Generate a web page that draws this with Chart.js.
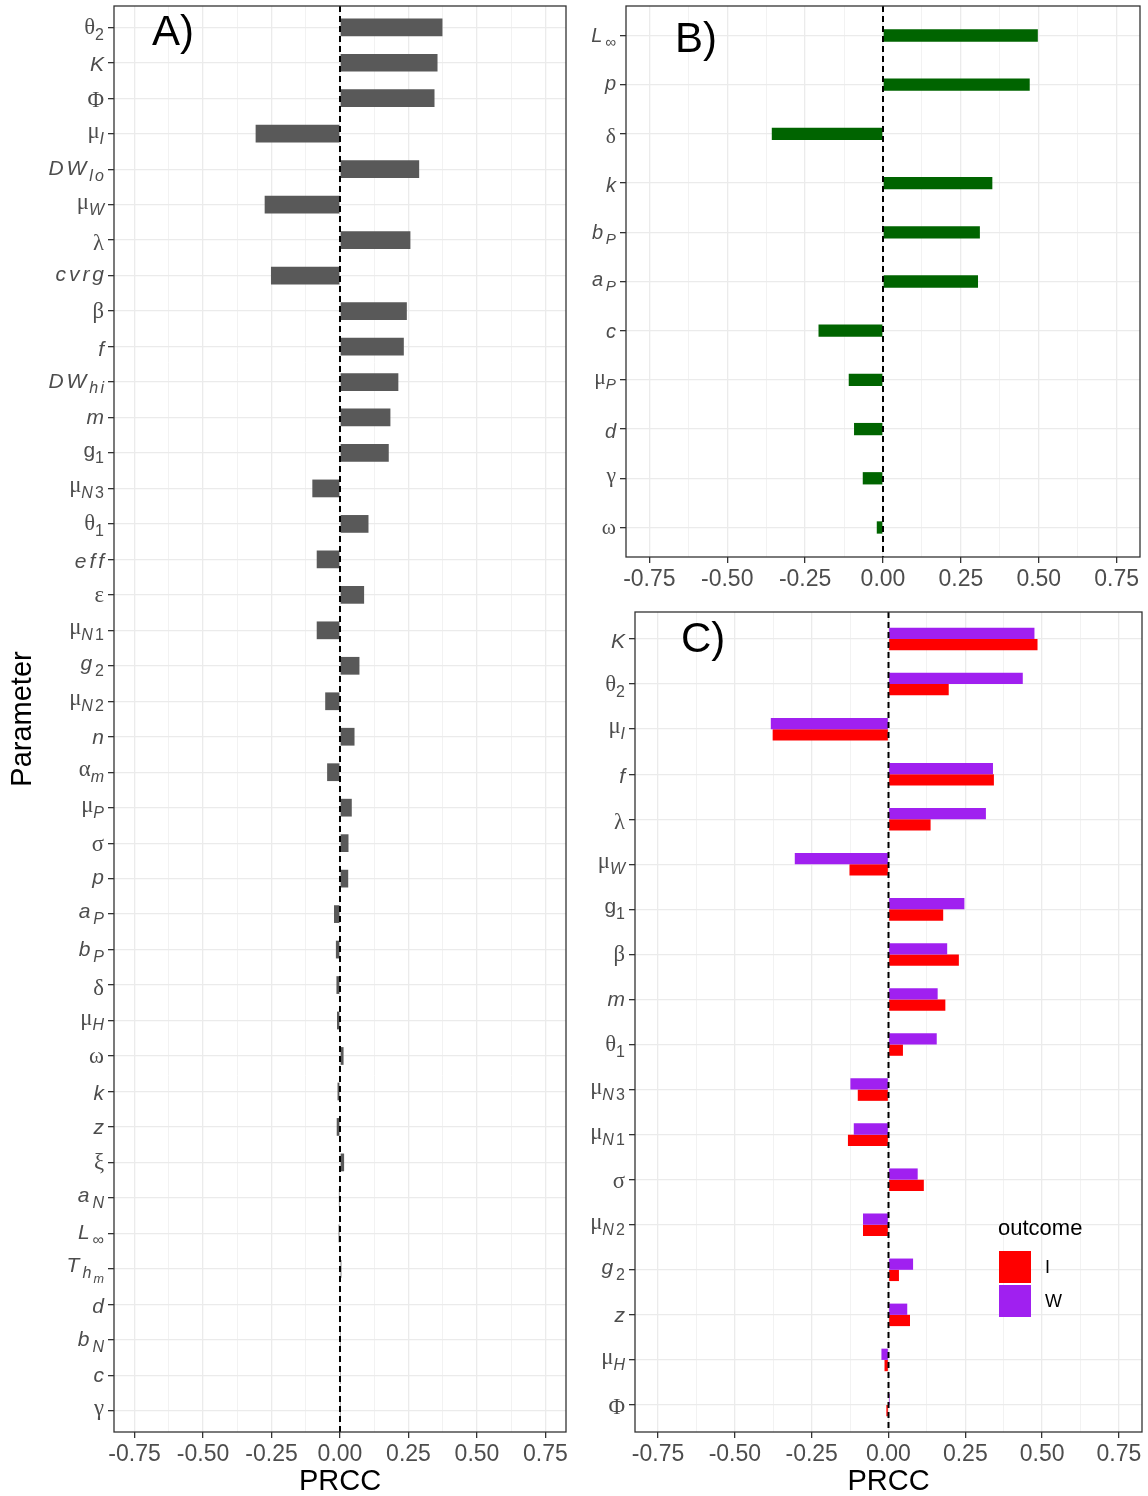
<!DOCTYPE html>
<html>
<head>
<meta charset="utf-8">
<title>PRCC sensitivity</title>
<script src="https://cdn.jsdelivr.net/npm/chart.js@4.4.1/dist/chart.umd.min.js"></script>
<style>
  html, body { margin: 0; padding: 0; background: #fff; }
  #wrap { position: relative; width: 1148px; height: 1496px; overflow: hidden; background: #fff; }
  canvas { position: absolute; }
  #chartA { left: 0; top: 0; }
  #chartB { left: 576px; top: 0; }
  #chartC { left: 576px; top: 600px; }
</style>
</head>
<body>
<div id="wrap">
  <canvas id="chartA" width="572" height="1496"></canvas>
  <canvas id="chartB" width="572" height="600"></canvas>
  <canvas id="chartC" width="572" height="896"></canvas>
</div>
<script>
// --------------------- Data -------------------
const xMajorTicks = [-0.75, -0.5, -0.25, 0, 0.25, 0.5, 0.75];
const xTickLabels = ['-0.75', '-0.50', '-0.25', '0.00', '0.25', '0.50', '0.75'];
const xMinorTicks = [-0.625, -0.375, -0.125, 0.125, 0.375, 0.625];

// parameter names: "_" starts a subscript (one more "_" = subscript of subscript)
const paramsA = ['θ_2', 'K', 'Φ', 'μ_I', 'DW_lo', 'μ_W', 'λ', 'cvrg', 'β', 'f',
  'DW_hi', 'm', 'g_1', 'μ_N3', 'θ_1', 'eff', 'ε', 'μ_N1', 'g_2', 'μ_N2',
  'n', 'α_m', 'μ_P', 'σ', 'p', 'a_P', 'b_P', 'δ', 'μ_H', 'ω',
  'k', 'z', 'ξ', 'a_N', 'L_∞', 'T_h_m', 'd', 'b_N', 'c', 'γ'];
const prccA = [0.374, 0.356, 0.345, -0.308, 0.289, -0.275, 0.257, -0.252, 0.244, 0.233,
  0.213, 0.184, 0.178, -0.101, 0.104, -0.085, 0.088, -0.085, 0.071, -0.054,
  0.053, -0.047, 0.043, 0.031, 0.030, -0.022, -0.015, -0.013, -0.011, 0.013,
  -0.009, -0.012, 0.015, -0.004, -0.005, 0.005, 0.002, 0.001, 0.001, 0.001];

const paramsB = ['L_∞', 'p', 'δ', 'k', 'b_P', 'a_P', 'c', 'μ_P', 'd', 'γ', 'ω'];
const prccB = [0.497, 0.471, -0.357, 0.351, 0.311, 0.305, -0.207, -0.110, -0.093, -0.065, -0.020];

const paramsC = ['K', 'θ_2', 'μ_I', 'f', 'λ', 'μ_W', 'g_1', 'β', 'm', 'θ_1',
  'μ_N3', 'μ_N1', 'σ', 'μ_N2', 'g_2', 'z', 'μ_H', 'Φ'];
const prccC_W = [0.475, 0.437, -0.383, 0.340, 0.317, -0.305, 0.247, 0.191, 0.160, 0.157,
  -0.124, -0.113, 0.095, -0.083, 0.080, 0.061, -0.023, 0.004];
const prccC_I = [0.485, 0.196, -0.377, 0.343, 0.137, -0.127, 0.178, 0.229, 0.185, 0.047,
  -0.100, -0.132, 0.115, -0.083, 0.034, 0.070, -0.013, -0.007];

const uprightLatin = ['g_1'];

// --------------------- Drawing helpers -------------------
function isMajor(v) {
  return xMajorTicks.indexOf(v) >= 0;
}

// draws a parameter name with italic latin letters and subscripts
function drawParamLabel(ctx, label, xRight, yTick, size) {
  const levels = label.split('_');
  const runs = [];
  levels.forEach((txt, lvl) => {
    const sz = lvl === 0 ? size : (lvl === 1 ? size * 0.76 : size * 0.6);
    const dy = lvl === 0 ? 0 : (lvl === 1 ? size * 0.28 : size * 0.5);
    for (const ch of txt) {
      const greek = /[\u0370-\u03FF]/.test(ch);
      const italic = /[A-Za-z]/.test(ch) && !(lvl === 0 && uprightLatin.includes(label));
      const chSize = greek ? sz * 1.08 : sz;
      const font = (italic ? 'italic ' : '') + chSize.toFixed(1) + 'px ' + (greek ? '"Liberation Serif"' : '"Liberation Sans"');
      ctx.font = font;
      const m = ctx.measureText(ch);
      runs.push({
        ch, font, dy,
        w: m.width,
        gap: italic ? sz * 0.14 : 0,
        asc: m.actualBoundingBoxAscent - dy,
        desc: m.actualBoundingBoxDescent + dy
      });
    }
  });
  const total = runs.reduce((s, r, i) => s + r.w + (i < runs.length - 1 ? r.gap : 0), 0);
  const asc = Math.max(...runs.map(r => r.asc));
  const desc = Math.max(...runs.map(r => r.desc));
  const base = yTick + (asc - desc) / 2 + 1.5;
  let x = xRight - total;
  ctx.fillStyle = '#4D4D4D';
  ctx.textAlign = 'left';
  ctx.textBaseline = 'alphabetic';
  runs.forEach(r => {
    ctx.font = r.font;
    ctx.fillText(r.ch, x, base + r.dy);
    x += r.w + r.gap;
  });
}

function decor(cfg) {
  return {
    id: 'decor',
    afterDatasetsDraw(chart) {
      const { ctx, chartArea } = chart;
      const x0 = chart.scales.x.getPixelForValue(0);
      ctx.save();
      ctx.strokeStyle = '#000000';
      ctx.lineWidth = 2;
      ctx.setLineDash([6, 4]);
      ctx.beginPath();
      ctx.moveTo(x0, chartArea.top);
      ctx.lineTo(x0, chartArea.bottom);
      ctx.stroke();
      ctx.restore();
    },
    afterDraw(chart) {
      const { ctx, chartArea } = chart;
      const yScale = chart.scales.y;
      ctx.save();
      // panel border
      ctx.strokeStyle = '#333333';
      ctx.lineWidth = 1.3;
      ctx.strokeRect(chartArea.left, chartArea.top, chartArea.right - chartArea.left, chartArea.bottom - chartArea.top);

      // parameter labels
      cfg.labels.forEach((lab, i) => {
        drawParamLabel(ctx, lab, chartArea.left - 10, yScale.getPixelForValue(i), cfg.labelSize);
      });

      // panel letter
      ctx.fillStyle = '#000000';
      ctx.font = '42px "Liberation Sans"';
      ctx.textAlign = 'left';
      ctx.textBaseline = 'alphabetic';
      ctx.fillText(cfg.letter, chartArea.left + cfg.letterPos[0], chartArea.top + cfg.letterPos[1]);

      // legend
      if (cfg.legend) {
        const lx = chartArea.left + 363;
        const ly = chartArea.top + 617;
        ctx.font = '22px "Liberation Sans"';
        ctx.textBaseline = 'middle';
        ctx.fillText(cfg.legend, lx, ly);
        const items = chart.data.datasets.slice().reverse();
        items.forEach((ds, k) => {
          const top = ly + 22 + k * 34;
          ctx.fillStyle = ds.backgroundColor;
          ctx.fillRect(lx + 1, top, 32, 32);
          ctx.fillStyle = '#000000';
          ctx.font = '18px "Liberation Sans"';
          ctx.fillText(ds.label, lx + 47, top + 17);
        });
      }
      ctx.restore();
    }
  };
}

function makePanel(canvasId, cfg) {
  const n = cfg.labels.length;
  const datasets = cfg.series.map(s => ({
    label: s.name,
    data: s.values.map((v, i) => ({ x: v, y: i })),
    backgroundColor: s.color,
    borderWidth: 0,
    categoryPercentage: cfg.groupWidth,
    barPercentage: 1
  }));
  const titleFont = { family: 'Liberation Sans', size: 29, lineHeight: 1 };
  return new Chart(document.getElementById(canvasId), {
    type: 'bar',
    data: { datasets },
    options: {
      indexAxis: 'y',
      responsive: false,
      animation: false,
      events: [],
      layout: { padding: cfg.padding },
      plugins: { legend: { display: false }, tooltip: { enabled: false } },
      scales: {
        x: {
          type: 'linear',
          min: -0.825,
          max: 0.825,
          afterBuildTicks: s => {
            s.ticks = xMajorTicks.concat(xMinorTicks).sort((a, b) => a - b).map(v => ({ value: v }));
          },
          afterFit: s => {
            s.height = cfg.xAxisHeight;
            s.paddingLeft = 0;
            s.paddingRight = 0;
          },
          ticks: {
            autoSkip: false,
            maxRotation: 0,
            padding: 3,
            color: '#4D4D4D',
            font: { family: 'Liberation Sans', size: 23 },
            callback: v => {
              const i = xMajorTicks.indexOf(v);
              return i < 0 ? '' : xTickLabels[i];
            }
          },
          grid: {
            color: c => (c.tick && isMajor(c.tick.value)) ? '#EBEBEB' : '#F2F2F2',
            lineWidth: c => (c.tick && isMajor(c.tick.value)) ? 1.3 : 1,
            tickLength: 6,
            tickColor: c => (c.tick && isMajor(c.tick.value)) ? '#333333' : 'rgba(0,0,0,0)'
          },
          border: { display: false },
          title: cfg.xTitle
            ? { display: true, text: cfg.xTitle, color: '#000000', font: titleFont, padding: { top: 0, bottom: 0 } }
            : { display: false }
        },
        y: {
          type: 'linear',
          reverse: true,
          offset: false,
          min: -0.6,
          max: n - 1 + 0.6,
          afterBuildTicks: s => {
            s.ticks = cfg.labels.map((_, i) => ({ value: i }));
          },
          afterFit: s => {
            s.width = cfg.yAxisWidth;
            s.paddingTop = 0;
            s.paddingBottom = 0;
          },
          ticks: { autoSkip: false, callback: () => '' },
          grid: { offset: false, color: '#EBEBEB', lineWidth: 1.3, tickLength: 6, tickColor: '#333333' },
          border: { display: false },
          title: cfg.yTitle
            ? { display: true, text: cfg.yTitle, color: '#000000', font: titleFont, padding: { top: 8, bottom: 0 } }
            : { display: false }
        }
      }
    },
    plugins: [decor(cfg)]
  });
}

// --------------------- Panels -------------------
makePanel('chartA', {
  labels: paramsA,
  series: [{ name: 'PRCC', values: prccA, color: '#595959' }],
  groupWidth: 0.5,
  padding: { left: 0, right: 6, top: 6, bottom: 0 },
  yAxisWidth: 114,
  xAxisHeight: 64,
  xTitle: 'PRCC',
  yTitle: 'Parameter',
  labelSize: 21,
  letter: 'A)',
  letterPos: [38, 39]
});

makePanel('chartB', {
  labels: paramsB,
  series: [{ name: 'PRCC', values: prccB, color: '#006400' }],
  groupWidth: 0.25,
  padding: { left: 0, right: 8, top: 6, bottom: 0 },
  yAxisWidth: 50,
  xAxisHeight: 43,
  xTitle: null,
  yTitle: null,
  labelSize: 20,
  letter: 'B)',
  letterPos: [49, 46]
});

makePanel('chartC', {
  labels: paramsC,
  series: [
    { name: 'W', values: prccC_W, color: '#A020F0' },
    { name: 'I', values: prccC_I, color: '#FF0000' }
  ],
  groupWidth: 0.5,
  padding: { left: 0, right: 6, top: 12, bottom: 0 },
  yAxisWidth: 59,
  xAxisHeight: 64,
  xTitle: 'PRCC',
  yTitle: null,
  labelSize: 21,
  letter: 'C)',
  letterPos: [46, 40],
  legend: 'outcome'
});
</script>
</body>
</html>
